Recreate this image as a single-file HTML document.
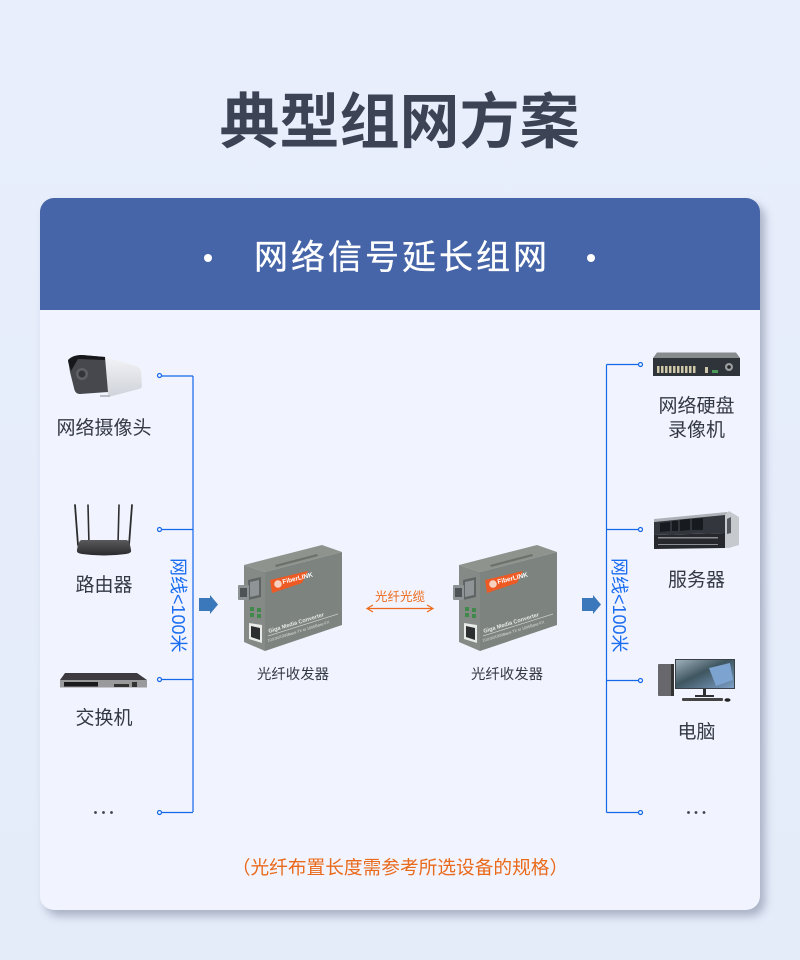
<!DOCTYPE html>
<html lang="zh"><head><meta charset="utf-8"><style>
html,body{margin:0;padding:0;background:#e6ecfa}
svg{display:block}
text{font-family:"Liberation Sans","Noto Sans CJK SC",sans-serif}
</style></head><body>
<svg width="800" height="960" viewBox="0 0 800 960" xmlns="http://www.w3.org/2000/svg">
<defs>
<filter id="s" x="-5%" y="-5%" width="110%" height="110%"><feGaussianBlur stdDeviation="4.500"/></filter>
<linearGradient id="bg" x1="0" y1="0" x2="0" y2="1"><stop offset="0" stop-color="#e8eefc"/><stop offset="1" stop-color="#e4ebf9"/></linearGradient>
<linearGradient id="cam" x1="0" y1="0" x2="0" y2="1"><stop offset="0" stop-color="#f2f3f6"/><stop offset="1" stop-color="#cfd2d9"/></linearGradient>
<linearGradient id="router" x1="0" y1="0" x2="0" y2="1"><stop offset="0" stop-color="#5a5a5c"/><stop offset="1" stop-color="#2a2a2c"/></linearGradient>
<linearGradient id="sky" x1="0" y1="0" x2="1" y2="1"><stop offset="0" stop-color="#9fb0bd"/><stop offset=".45" stop-color="#3f5660"/><stop offset="1" stop-color="#7ea0c8"/></linearGradient>
<g id="conv">
<polygon points="244,565 322,545 342,552 265,572" fill="#8e938e"/>
<polygon points="244,565 265,572 265,651 244,642" fill="#858a86"/>
<polygon points="265,572 342,552 342,625 265,651" fill="#7d837e"/>
<polygon points="275,565 317,554 318,556 276,567" fill="#6c716c"/>
<polygon points="270,580 308,571 302,583 272,593" fill="#ee5a24"/>
<circle cx="278" cy="584" r="3.800" fill="#f7d2c0"/>
<text x="283" y="584" font-size="6.500" font-weight="700" fill="#fff" transform="rotate(-14 283 584)">FiberLINK</text>
<text x="269" y="633" font-size="5.600" font-weight="700" fill="#e8ebe8" transform="rotate(-17 269 633)">Giga Media Converter</text>
<line x1="268" y1="636" x2="338" y2="614" stroke="#c9cdca" stroke-width=".8"/>
<text x="268" y="642" font-size="3.800" fill="#dfe2df" transform="rotate(-17 268 642)">10/100/1000Base-TX to 1000Base-FX</text>
<polygon points="248,580 261,577 261,597 248,600" fill="#5f6465"/>
<polygon points="250,582 259,580 259,595 250,597" fill="#8f9596"/>
<rect x="238" y="585" width="11" height="15" rx="1" fill="#8d9295"/>
<rect x="240" y="588" width="7" height="9" fill="#4e5356"/>
<g fill="#3f8a4a"><rect x="250" y="607" width="4" height="4"/><rect x="257" y="608" width="4" height="4"/><rect x="250" y="613" width="4" height="4"/><rect x="257" y="614" width="4" height="4"/></g>
<polygon points="249,623 262,625 262,643 249,639" fill="#e9ebe9"/>
<polygon points="251,626 260,628 260,640 251,637" fill="#2c2f30"/>
</g>
</defs>
<rect width="800" height="960" fill="url(#bg)"/>
<text x="399.500" y="143" font-size="60" font-weight="700" fill="#3b4354" text-anchor="middle">典型组网方案</text>

<rect x="45" y="204" width="720" height="712" rx="14" fill="#9fa7bc" opacity=".85" filter="url(#s)"/>
<rect x="40" y="198" width="720" height="712" rx="14" fill="#f1f4fe"/>
<path d="M40 310V212a14 14 0 0 1 14-14H746a14 14 0 0 1 14 14V310Z" fill="#4664a8"/>
<circle cx="208" cy="258" r="4" fill="#fff"/><circle cx="591" cy="258" r="4" fill="#fff"/>
<text x="402" y="269" font-size="34" fill="#fff" stroke="#fff" stroke-width=".3" text-anchor="middle" letter-spacing="3">网络信号延长组网</text>

<!-- buses -->
<g fill="none" stroke="#1566e8" stroke-width="1.200">
<path d="M193 376V812M160 376H193M160 529.500H193M160 679.500H193M160 812.500H193"/>
<path d="M606.500 364.500V812.500M641 364.500H606.500M641 529.500H606.500M641 680.500H606.500M641 812.500H606.500"/>
</g>
<g fill="#f1f4fe" stroke="#1566e8" stroke-width="1.200">
<circle cx="159.500" cy="375.500" r="2"/><circle cx="159.500" cy="529.500" r="2"/><circle cx="159.500" cy="679.500" r="2"/><circle cx="159.500" cy="812.500" r="2"/>
<circle cx="640.500" cy="364.500" r="2"/><circle cx="640.500" cy="529.500" r="2"/><circle cx="640.500" cy="680.500" r="2"/><circle cx="640.500" cy="812.500" r="2"/>
</g>
<text transform="translate(172 558) rotate(90)" font-size="18" fill="#1a6cf0">网线&lt;100米</text>
<text transform="translate(613 558) rotate(90)" font-size="18" fill="#1a6cf0">网线&lt;100米</text>

<!-- camera -->
<path d="M105 357L136 366Q141 368 141 372L142 386Q142 388 139 389L108 397Z" fill="url(#cam)"/>
<path d="M68 360Q72 355 82 355L105 357L108 392L80 394Q75 394 74 388L70 372Z" fill="#47484e"/>
<path d="M68 361Q72 355 82 355L105 357L105 360L78 359L71 371Z" fill="#16171a"/>
<circle cx="82" cy="374" r="6" fill="#5f6066"/><circle cx="82" cy="374" r="3.500" fill="#34353a"/>
<rect x="100" y="395" width="10" height="2" fill="#b8bcc4"/>

<!-- router -->
<g stroke="#2d2d30" stroke-linecap="round" fill="none">
<path d="M75 505L78 545" stroke-width="1.800"/><path d="M88 505L89 545" stroke-width="1.600"/><path d="M119 505L118 545" stroke-width="1.600"/><path d="M132 505L129 545" stroke-width="1.800"/>
</g>
<path d="M81 540H127Q130 542 131 550Q132 553 126 554Q104 557 82 554Q76 553 77 550Q78 542 81 540Z" fill="url(#router)"/>

<!-- switch -->
<polygon points="65,673 137,673 147,680 60,680" fill="#3d3a40"/>
<polygon points="60,680 147,680 147,687.500 60,687.500" fill="#9a9a9c"/>
<rect x="64" y="682" width="34" height="4.500" fill="#1a1a1c"/>
<rect x="114" y="684" width="15" height="3" fill="#333"/>
<rect x="132" y="682" width="5" height="5" fill="#333"/>

<!-- nvr -->
<polygon points="657,352.500 736,352.500 740,358 653,358" fill="#888b8e"/>
<rect x="653" y="358" width="87" height="18" fill="#2f343b"/>
<g fill="#cfc8a8"><rect x="657" y="366" width="2.500" height="7"/><rect x="661" y="366" width="2.500" height="7"/><rect x="665" y="366" width="2.500" height="7"/><rect x="669" y="366" width="2.500" height="7"/><rect x="673" y="366" width="2.500" height="7"/><rect x="677" y="366" width="2.500" height="7"/><rect x="681" y="366" width="2.500" height="7"/><rect x="685" y="366" width="2.500" height="7"/><rect x="689" y="366" width="2.500" height="7"/><rect x="693" y="366" width="2.500" height="7"/><rect x="705" y="367" width="3" height="6"/></g>
<rect x="712" y="370" width="6" height="3" fill="#4a9a5a"/>
<circle cx="729" cy="367" r="4" fill="#9a9da0"/><circle cx="729" cy="367" r="1.800" fill="#222"/>

<!-- server -->
<polygon points="654,519 727,512 729,515 654,522" fill="#aeb2b8"/>
<polygon points="654,522 725,515 725,533 654,535" fill="#33363c"/>
<g fill="#171a1e"><polygon points="660,523 670,522 670,531 660,532"/><polygon points="672,521 678,521 678,531 672,531"/><polygon points="680,520 690,519 690,530 680,531"/><polygon points="692,519 703,518 703,530 692,530"/></g>
<polygon points="654,535 725,533 725,548 654,549" fill="#26282d"/>
<g fill="#8a8d93"><rect x="658" y="537" width="60" height="1.500"/><rect x="658" y="544" width="60" height="1"/></g>
<polygon points="725,515 729,511 739,517 739,545 729,548 725,548" fill="#c6c9ce"/>
<polygon points="727,519 731,517 731,533 727,534" fill="#55595f"/>

<!-- pc -->
<rect x="658" y="664" width="16" height="32" rx="1" fill="#68686c"/>
<rect x="671" y="664" width="3" height="32" fill="#333"/>
<rect x="675" y="659" width="60" height="30" fill="#3a4148"/>
<rect x="676" y="660" width="58" height="28" fill="url(#sky)"/>
<polygon points="709,668 730,663 733,680 716,686" fill="#7da3d0"/>
<rect x="703" y="689" width="3" height="7" fill="#2f2f33"/>
<rect x="695" y="695" width="19" height="2" fill="#333"/>
<rect x="682" y="698" width="41" height="3" rx="1" fill="#444"/>
<ellipse cx="727.500" cy="700" rx="3" ry="1.800" fill="#222"/>

<!-- labels -->
<g font-size="19" fill="#333845" text-anchor="middle">
<text x="104" y="434">网络摄像头</text>
<text x="104" y="591">路由器</text>
<text x="104" y="724">交换机</text>
<text x="696.500" y="412">网络硬盘</text>
<text x="696.500" y="436">录像机</text>
<text x="696.500" y="586">服务器</text>
<text x="696.500" y="738">电脑</text>
</g>
<g fill="#3a3f4c"><circle cx="95.500" cy="812.500" r="1.400"/><circle cx="103.500" cy="812.500" r="1.400"/><circle cx="111.500" cy="812.500" r="1.400"/>
<circle cx="688.500" cy="812.500" r="1.400"/><circle cx="696" cy="812.500" r="1.400"/><circle cx="704" cy="812.500" r="1.400"/></g>

<!-- converters -->
<use href="#conv"/><use href="#conv" x="215"/>
<g font-size="14.400" fill="#333845" text-anchor="middle"><text x="293" y="679">光纤收发器</text><text x="507" y="679">光纤收发器</text></g>
<text x="400" y="601" font-size="12.500" fill="#ed6a1c" text-anchor="middle">光纤光缆</text>
<path d="M368 608.500H432" stroke="#ed6a1c" stroke-width="1.300"/>
<path d="M373 605L367 608.500L373 612M427 605L433 608.500L427 612" stroke="#ed6a1c" stroke-width="1.200" fill="none"/>

<!-- arrows -->
<polygon points="199,598 210,598 210,595 218,604.500 210,614 210,611 199,611" fill="#3b78bb"/>
<polygon points="582,598 593,598 593,595 601,604.500 593,614 593,611 582,611" fill="#3b78bb"/>

<text x="400" y="874" font-size="18.700" fill="#ea6a1c" text-anchor="middle">（光纤布置长度需参考所选设备的规格）</text>
</svg>
</body></html>
